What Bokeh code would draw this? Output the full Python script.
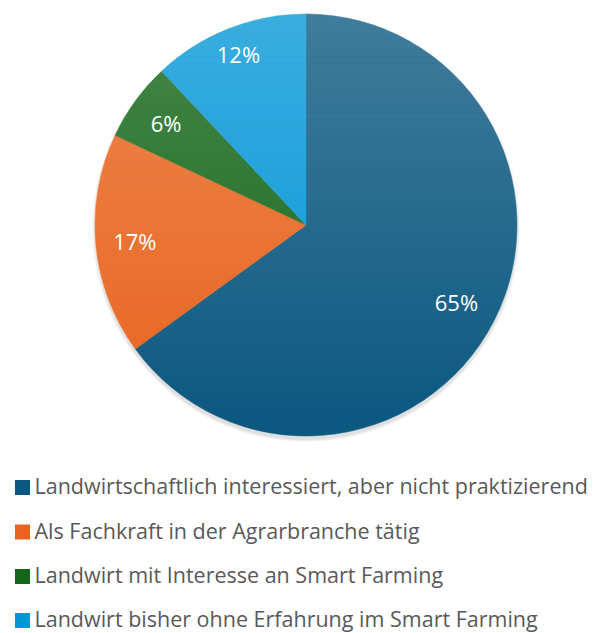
import math
from bokeh.plotting import figure
from bokeh.models import Range1d
from bokeh.core.properties import value
from bokeh.embed import file_html
from bokeh.resources import INLINE

# ---- data ----
categories = [
    "Landwirtschaftlich interessiert, aber nicht praktizierend",
    "Als Fachkraft in der Agrarbranche tätig",
    "Landwirt mit Interesse an Smart Farming",
    "Landwirt bisher ohne Erfahrung im Smart Farming",
]
shares = [65, 17, 6, 12]
labels = ["65%", "17%", "6%", "12%"]
colors = ["#0b5880", "#e8641e", "#146618", "#0396d6"]

# ---- layout (page pixel helpers) ----
W, H = 607, 633
def X(px):
    return px
def Y(py):
    return H - py

p = figure(width=W, height=H, x_range=Range1d(0, W), y_range=Range1d(0, H),
           output_backend="svg", toolbar_location=None, min_border=0)
p.axis.visible = False
p.grid.visible = False
p.outline_line_color = None
p.background_fill_color = "white"

cx, cy, R = X(305.5), Y(224.5), 211.0

# soft shadow (mostly below)
for k, a in [(3, 0.03), (2, 0.04), (1, 0.05)]:
    p.circle(x=[cx], y=[cy - 3], radius=R + k, fill_color="#000000", fill_alpha=a, line_color=None)

total = float(sum(shares))
starts, ends, mids = [], [], []
cum = 0.0
for s in shares:
    a0 = math.pi / 2 - 2 * math.pi * cum / total
    cum += s
    a1 = math.pi / 2 - 2 * math.pi * cum / total
    starts.append(a0)
    ends.append(a1)
    mids.append((a0 + a1) / 2)

p.wedge(x=cx, y=cy, radius=R, start_angle=starts, end_angle=ends, direction="clock",
        fill_color=colors, line_color=colors, line_width=0.5)

# vertical light gradient overlay (white on white background is invisible outside the pie)
N = 60
top_y, bot_y = cy + R, cy - R
lefts, rights, tops, bots, alphas = [], [], [], [], []
for i in range(N):
    t0 = top_y - (top_y - bot_y) * i / N
    t1 = top_y - (top_y - bot_y) * (i + 1) / N
    frac = (i + 0.5) / N
    lefts.append(cx - R - 2)
    rights.append(cx + R + 2)
    tops.append(t0)
    bots.append(t1)
    alphas.append(0.22 * (1 - frac))
p.quad(left=lefts, right=rights, top=tops, bottom=bots, fill_color="white",
       fill_alpha=alphas, line_color=None)

# percentage labels
label_r = [0.80, 0.815, 0.82, 0.87]
lx = [cx + R * f * math.cos(m) for f, m in zip(label_r, mids)]
ly = [cy + R * f * math.sin(m) for f, m in zip(label_r, mids)]
p.text(x=lx, y=ly, text=labels, text_align="center", text_baseline="middle",
       text_color="white", text_font=value("Open Sans"), text_font_size="22px")

# legend
txt_y = [485, 529.5, 574, 618]
sq_y = [487, 531.5, 576, 620]
p.rect(x=[X(22)] * 4, y=[Y(v) for v in sq_y], width=15, height=15,
       fill_color=colors, line_color=None)
p.text(x=[X(34)] * 4, y=[Y(v) for v in txt_y], text=categories, text_align="left",
       text_baseline="middle", text_color="#595959",
       text_font=value("Open Sans"), text_font_size="21.5px")

open("out.html", "w").write(file_html(p, INLINE))
